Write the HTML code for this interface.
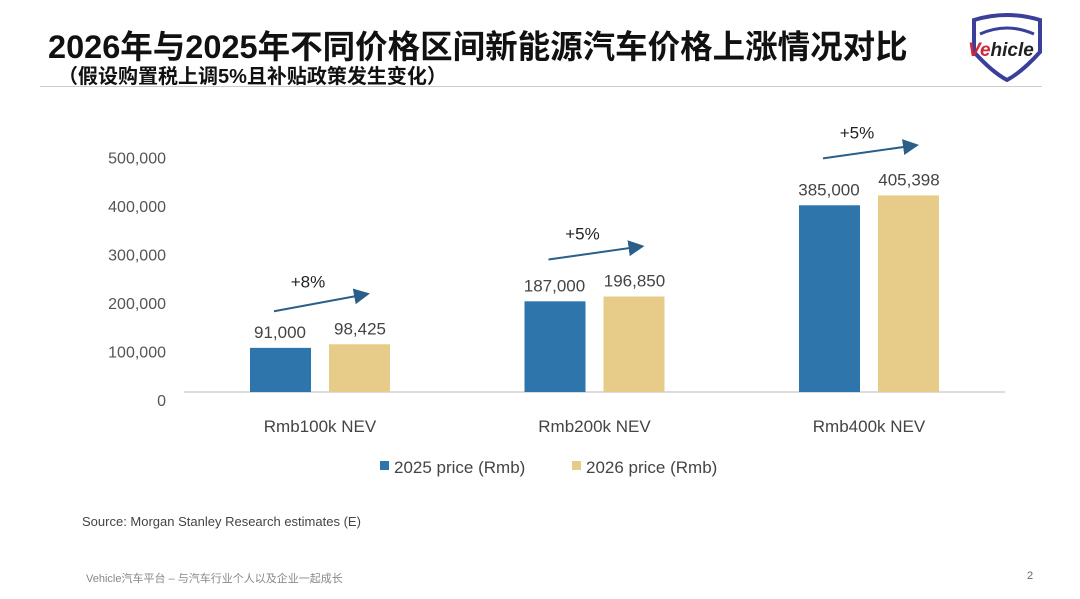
<!DOCTYPE html>
<html><head><meta charset="utf-8"><style>
body{margin:0;width:1080px;height:599px;background:#fff;overflow:hidden;font-family:"Liberation Sans","Noto Sans CJK SC",sans-serif;position:relative}
.t{position:absolute;white-space:nowrap}
</style></head><body>
<div class="t" style="left:48px;top:21px;font-size:32.5px;font-weight:bold;color:#111">2026年与2025年不同价格区间新能源汽车价格上涨情况对比</div>
<div class="t" style="left:58px;top:60px;font-size:20px;font-weight:bold;color:#111">（假设购置税上调5%且补贴政策发生变化）</div>
<div style="position:absolute;left:40px;top:86px;width:1002px;height:1px;background:#ccc"></div>
<svg style="position:absolute;left:962px;top:12px" width="90" height="70" viewBox="0 0 90 70">
<path d="M12 8 Q45 -2 78 8 L78 40 Q60 60 45 68 Q30 60 12 40 Z" fill="none" stroke="#3a3f9a" stroke-width="4"/>
<path d="M18 22 Q45 10 72 22" fill="none" stroke="#3a3f9a" stroke-width="3"/>
<text x="6" y="44" font-size="19" font-weight="bold" font-style="italic" font-family="Liberation Sans,sans-serif"><tspan fill="#d0283a">Ve</tspan><tspan fill="#222">hicle</tspan></text>
</svg>
<svg id="chart" style="position:absolute;left:0;top:0" width="1080" height="599"></svg>
<div class="t" style="left:82px;top:514px;font-size:13px;color:#444">Source: Morgan Stanley Research estimates (E)</div>
<div class="t" style="left:86px;top:570px;font-size:11px;color:#888">Vehicle汽车平台 – 与汽车行业个人以及企业一起成长</div>
<div class="t" style="left:1027px;top:570px;font-size:11px;color:#666">2</div>
<script>
const categories=["Rmb100k NEV","Rmb200k NEV","Rmb400k NEV"];
const price2025=[91000,187000,385000];
const price2026=[98425,196850,405398];
const growthLabels=["+8%","+5%","+5%"];
const yTicks=[0,100000,200000,300000,400000,500000];
const seriesNames=["2025 price (Rmb)","2026 price (Rmb)"];
const svg=document.getElementById('chart');const NS="http://www.w3.org/2000/svg";
function y(v){return 392-v*0.000485;}
function gx(i){return 320+i*274.5;}
function mk(tag,attrs,txt){const e=document.createElementNS(NS,tag);for(const k in attrs)e.setAttribute(k,attrs[k]);if(txt!==undefined)e.textContent=txt;svg.appendChild(e);return e;}
const fmt=v=>v.toLocaleString('en-US');
yTicks.forEach(v=>{const t=mk('text',{x:166,y:y(v)+14,'text-anchor':'end','font-size':16,fill:'#555'},fmt(v));

});
const ax=mk('line',{x1:184,x2:1005,y1:392,y2:392,stroke:'#d0d0d0','stroke-width':1.5});


mk('defs',{}).innerHTML='<marker id="ah" markerWidth="8" markerHeight="8" refX="6" refY="4" orient="auto"><path d="M0,0 L8,4 L0,8 Z" fill="#2a5f8a"/></marker>';
categories.forEach((c,i)=>{
 const cx=gx(i);
 const b1=mk('rect',{x:cx-70,y:y(price2025[i]),width:61,height:392-y(price2025[i]),fill:'#2e75ab'});
 
 
 const b2=mk('rect',{x:cx+9,y:y(price2026[i]),width:61,height:392-y(price2026[i]),fill:'#e6cc88'});
 
 
 const l1=mk('text',{x:cx-40,y:y(price2025[i])-10,'text-anchor':'middle','font-size':17,fill:'#444'},fmt(price2025[i]));
 
 
 const l2=mk('text',{x:cx+40,y:y(price2026[i])-10,'text-anchor':'middle','font-size':17,fill:'#444'},fmt(price2026[i]));
 
 
 const cl=mk('text',{x:cx,y:432,'text-anchor':'middle','font-size':17,fill:'#444'},c);
 
 
 const top=y(price2026[i]);
 const ar=mk('line',{x1:cx-46,y1:top-37+ (i==0?4:0),x2:cx+46,y2:top-50,stroke:'#2a5f8a','stroke-width':2,'marker-end':'url(#ah)'});
 
 
 const gl=mk('text',{x:cx-12,y:top-57,'text-anchor':'middle','font-size':17,fill:'#222'},growthLabels[i]);
 
 
});
const colors=['#2e75ab','#e6cc88'];const lx=[380,572];
seriesNames.forEach((n,i)=>{
 const s=mk('rect',{x:lx[i],y:461,width:9,height:9,fill:colors[i]});
 
 
 const t=mk('text',{x:lx[i]+14,y:473,'font-size':17,fill:'#444'},n);
 
 
});
</script>
</body></html>
